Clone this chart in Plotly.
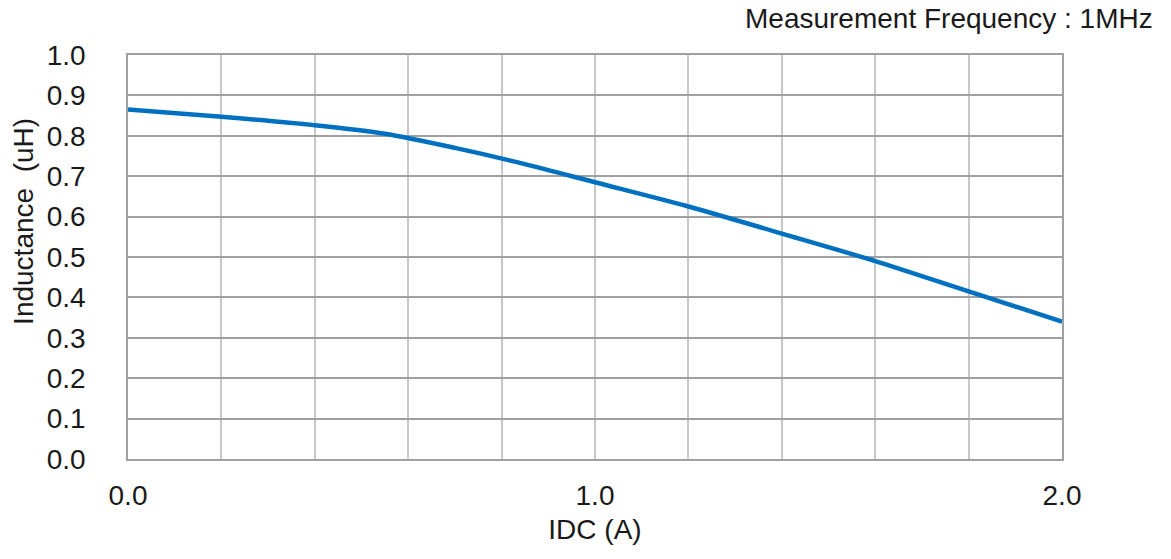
import plotly.graph_objects as go

idc = [0.0, 0.2, 0.4, 0.55, 0.7, 0.85, 1.0, 1.2, 1.4, 1.6, 1.8, 2.0]
inductance = [0.865, 0.847, 0.826, 0.805, 0.77, 0.73, 0.685, 0.625, 0.558, 0.49, 0.415, 0.34]

x_tickvals = [0.0, 0.2, 0.4, 0.6, 0.8, 1.0, 1.2, 1.4, 1.6, 1.8, 2.0]
x_ticktext = ["0.0", "", "", "", "", "1.0", "", "", "", "", "2.0"]
y_tickvals = [0.0, 0.1, 0.2, 0.3, 0.4, 0.5, 0.6, 0.7, 0.8, 0.9, 1.0]
y_ticktext = ["0.0", "0.1", "0.2", "0.3", "0.4", "0.5", "0.6", "0.7", "0.8", "0.9", "1.0"]

font = "Liberation Sans, Arial, sans-serif"
fs = 28
fc = "#1a1a1a"

fig = go.Figure()
fig.add_trace(go.Scatter(
    x=idc, y=inductance, mode="lines",
    line=dict(color="#0070c0", width=4.5, shape="spline", smoothing=0.8),
    showlegend=False, hoverinfo="skip",
))

fig.update_layout(
    width=1171, height=559,
    margin=dict(l=128, r=109, t=55, b=100),
    paper_bgcolor="white", plot_bgcolor="white",
    font=dict(family=font, size=fs, color=fc),
    xaxis=dict(
        range=[0, 2], tickvals=x_tickvals, ticktext=x_ticktext,
        showgrid=True, gridcolor="#c8c8c8", gridwidth=1.5,
        showline=True, linecolor="#a0a0a0", linewidth=1.5, mirror=True,
        zeroline=False, ticks="", ticklabelstandoff=11,
        tickfont=dict(size=fs, family=font, color=fc),
        title=dict(text="IDC (A)", font=dict(size=fs, family=font, color=fc), standoff=9),
    ),
    yaxis=dict(
        range=[0, 1], tickvals=y_tickvals, ticktext=y_ticktext,
        showgrid=True, gridcolor="#a0a0a0", gridwidth=1.5,
        showline=True, linecolor="#a0a0a0", linewidth=1.5, mirror=True,
        zeroline=False, ticks="", ticklabelstandoff=35,
        tickfont=dict(size=fs, family=font, color=fc),
    ),
    annotations=[
        dict(
            text="Measurement Frequency : 1MHz", xref="paper", yref="paper",
            x=1.1, y=1.0, xanchor="right", yanchor="bottom", yshift=19,
            showarrow=False, font=dict(size=fs, family=font, color=fc),
        ),
        dict(
            text="Inductance  (uH)", xref="paper", yref="paper",
            x=-0.1113, y=0.587, xanchor="center", yanchor="middle",
            textangle=-90, showarrow=False,
            font=dict(size=fs, family=font, color=fc),
        ),
    ],
)

fig.write_html("out.html")
